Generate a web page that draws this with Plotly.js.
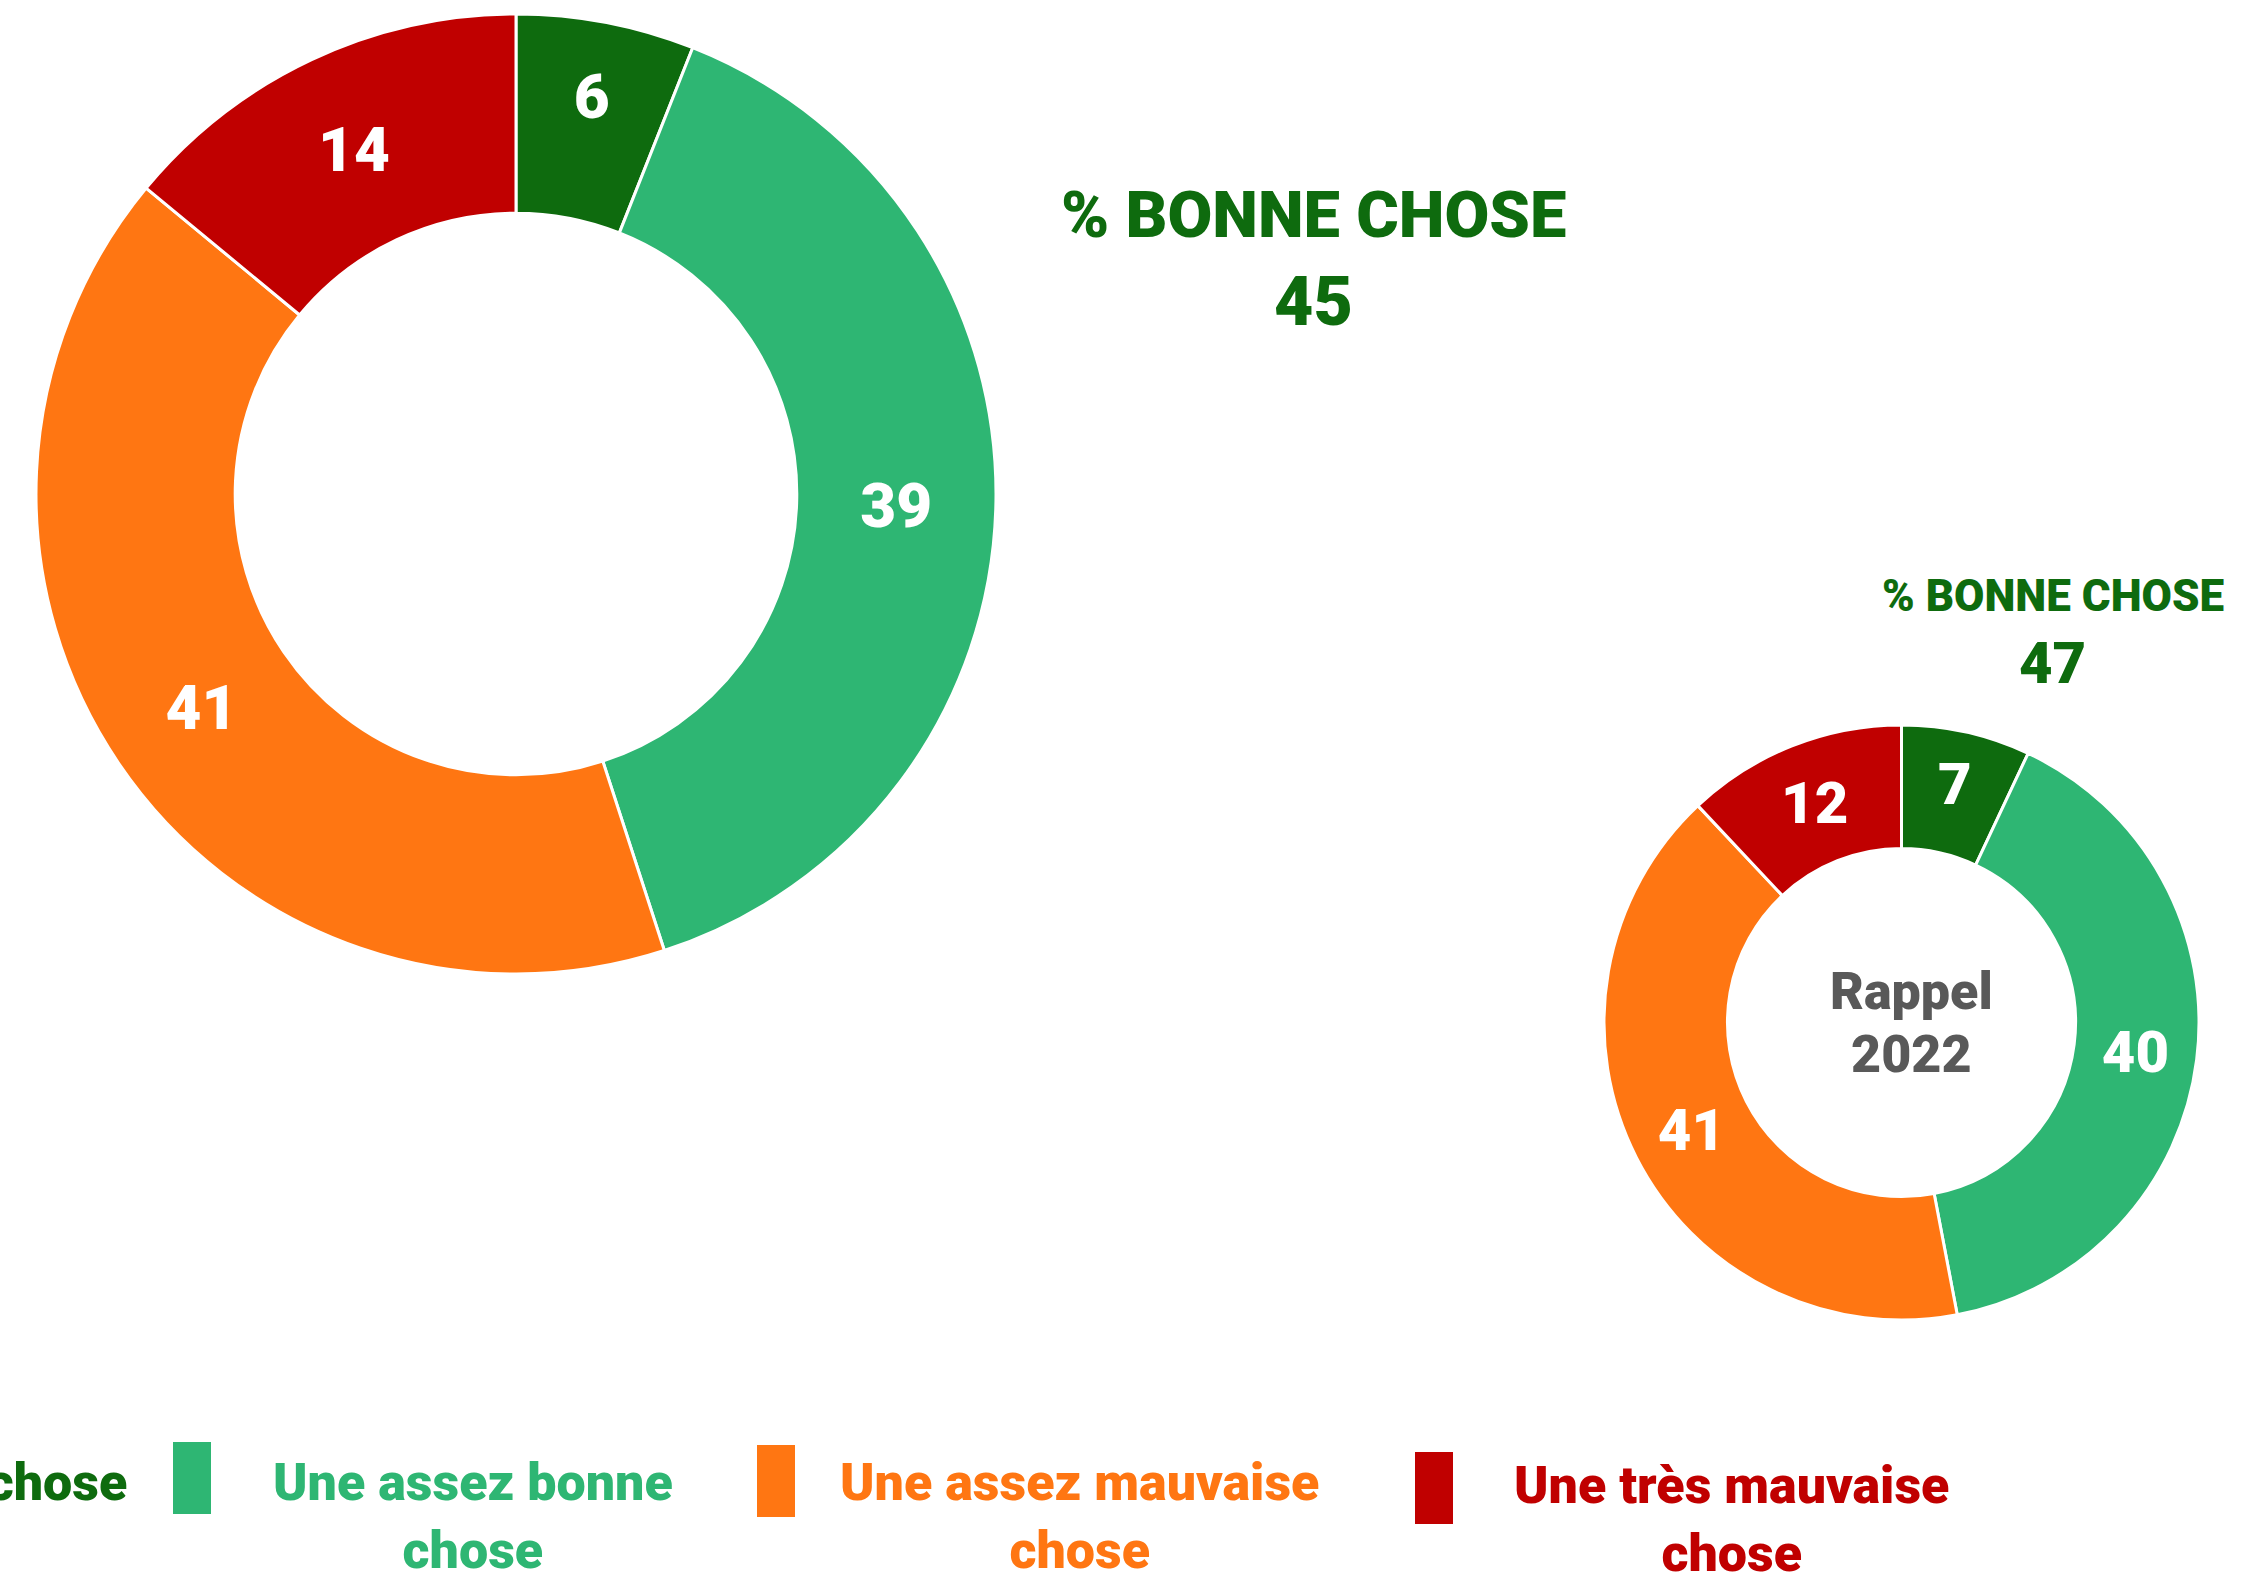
<!DOCTYPE html>
<html>
<head>
<meta charset="utf-8">
<script src="https://cdn.plot.ly/plotly-3.0.1.min.js"></script>
<style>
  html, body { margin: 0; padding: 0; background: #ffffff; }
  #chart { width: 2243px; height: 1577px; }
</style>
</head>
<body>
<div id="chart"></div>
<script>
// ---- Data ----
const categories = ["Une très bonne chose", "Une assez bonne chose", "Une assez mauvaise chose", "Une très mauvaise chose"];
const legendLabels = ["Une très bonne chose", "Une assez bonne<br>chose", "Une assez mauvaise<br>chose", "Une très mauvaise<br>chose"];
const values2024 = [6, 39, 41, 14];
const values2022 = [7, 40, 41, 12];
const goodTitle = "% BONNE CHOSE";
const goodTotal2024 = 45;
const goodTotal2022 = 47;
const recallLines = ["Rappel", "2022"];

// ---- Styles ----
const colors = ["#0E6B0E", "#2EB673", "#FF7612", "#C00000"];
const FONT = "Roboto, 'Noto Sans', sans-serif";
const WEIGHT = 900;
const W = 2243, H = 1577;
const px = x => x / W;
const py = y => 1 - y / H;

function pieTrace(values, domX, domY, fontSize) {
  return {
    type: "pie",
    values: values,
    labels: categories,
    sort: false,
    direction: "clockwise",
    rotation: 0,
    hole: 0.585,
    marker: { colors: colors, line: { color: "#ffffff", width: 3 } },
    textinfo: "value",
    textposition: "inside",
    insidetextorientation: "horizontal",
    textfont: { family: FONT, size: fontSize, color: "#ffffff", weight: WEIGHT },
    domain: { x: domX, y: domY },
    showlegend: false,
    hoverinfo: "label+value"
  };
}

const traces = [
  pieTrace(values2024, [px(36), px(996)], [py(974), py(14)], 62),
  pieTrace(values2022, [px(1604), px(2199)], [py(1320), py(725)], 58)
];

function ann(text, x, y, size, color, extra) {
  return Object.assign({
    xref: "paper", yref: "paper", xanchor: "center", yanchor: "middle", showarrow: false,
    x: x, y: y, text: text,
    font: { size: size, color: color, family: FONT, weight: WEIGHT }
  }, extra || {});
}

const annotations = [
  ann(goodTitle, px(1313), py(215), 65, colors[0]),
  ann(String(goodTotal2024), px(1313), py(302), 68, colors[0]),
  ann(goodTitle, px(2053), py(596), 44, colors[0]),
  ann(String(goodTotal2022), px(2052), py(663), 58, colors[0]),
  ann(recallLines[0], px(1911), py(991), 52, "#595959"),
  ann(recallLines[1], px(1911), py(1054), 52, "#595959")
];

// Legend (drawn manually, first item partially off-canvas as in the reference)
const legendSquares = [[-560, 1442], [173, 1442], [757, 1445], [1415, 1452]];
const legendText = [[129, 1482, "right"], [473, 1516, "center"], [1079, 1516, "center"], [1731, 1519, "center"]];
const shapes = [];
categories.forEach((c, i) => {
  const [sx, sy] = legendSquares[i];
  shapes.push({
    type: "rect", xref: "paper", yref: "paper",
    x0: px(sx), x1: px(sx + 38), y0: py(sy + 72), y1: py(sy),
    fillcolor: colors[i], line: { width: 0 }
  });
  const [tx, ty, anchor] = legendText[i];
  annotations.push(ann(legendLabels[i], px(tx), py(ty), 52, colors[i], { xanchor: anchor, align: "center" }));
});

const layout = {
  width: W, height: H,
  margin: { l: 0, r: 0, t: 0, b: 0 },
  paper_bgcolor: "#ffffff",
  plot_bgcolor: "#ffffff",
  showlegend: false,
  annotations: annotations,
  shapes: shapes
};

Plotly.newPlot("chart", traces, layout, { displayModeBar: false, staticPlot: true });
</script>
</body>
</html>
